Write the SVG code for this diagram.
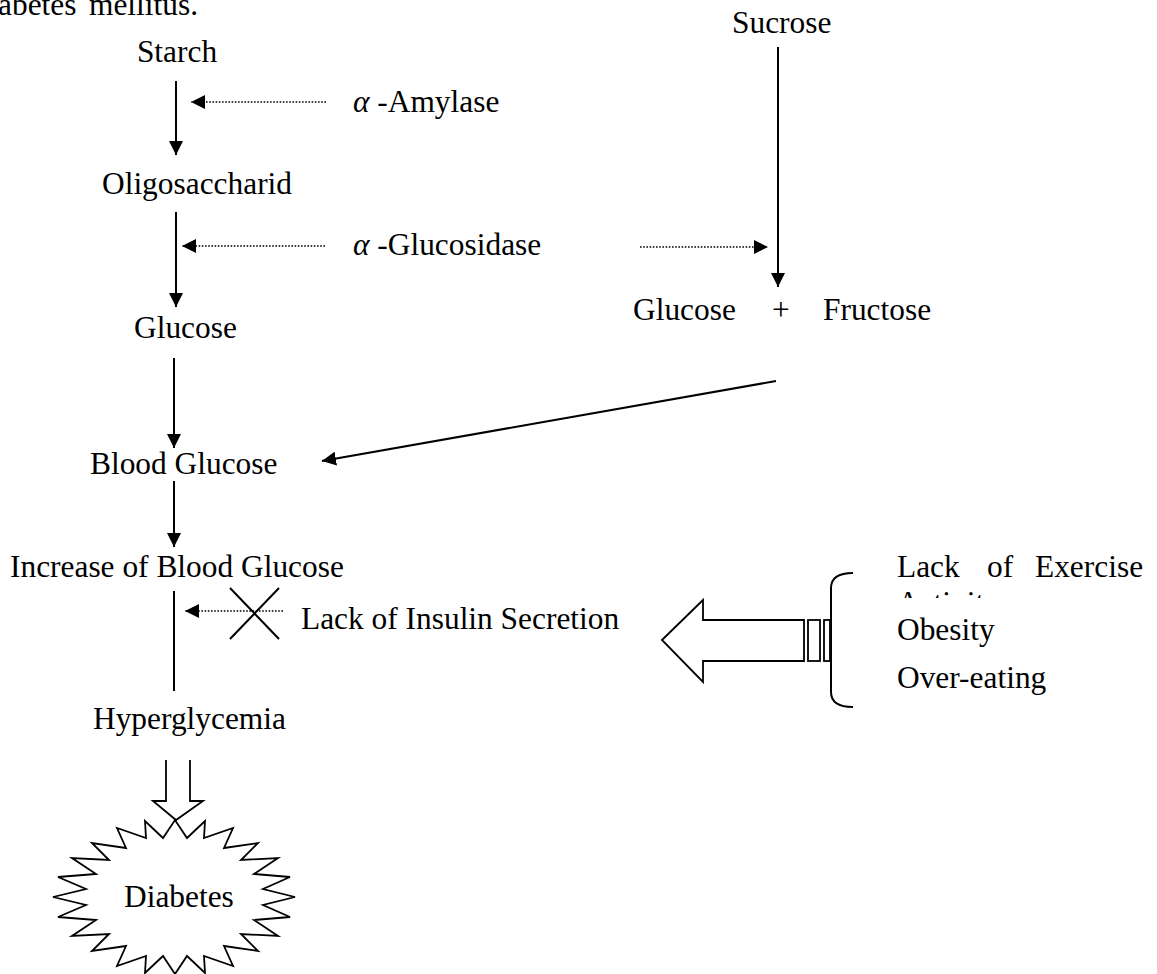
<svg xmlns="http://www.w3.org/2000/svg" width="1157" height="974" viewBox="0 0 1157 974">
<style>
text{font-family:"Liberation Serif","Times New Roman",serif;font-size:31.4px;fill:#000}
.s{stroke:#000;stroke-width:2;fill:none}
.d{stroke:#000;stroke-width:1.6;stroke-dasharray:1.6 1.6;fill:none}
.o{stroke:#000;stroke-width:1.8;fill:#fff}
.i{font-style:italic}
</style>
<defs>
<marker id="ah" viewBox="0 0 14 14" refX="14" refY="7" markerWidth="14" markerHeight="14" markerUnits="userSpaceOnUse" orient="auto"><path d="M0,0 L14,7 L0,14 z" fill="#000"/></marker>
<clipPath id="actclip"><rect x="880" y="585" width="200" height="13"/></clipPath>
</defs>
<rect width="1157" height="974" fill="#fff"/>
<g id="title"><text x="-2" y="15">abetes</text><text x="89" y="15">mellitus.</text></g>
<g id="starch"><text x="177" y="62" text-anchor="middle">Starch</text></g>
<g id="amylase"><text x="353" y="112"><tspan class="i">α</tspan> -Amylase</text></g>
<g id="oligo"><text x="102" y="194">Oligosaccharid</text></g>
<g id="glucosidase"><text x="353" y="255"><tspan class="i">α</tspan> -Glucosidase</text></g>
<g id="sucrose"><text x="732" y="33">Sucrose</text></g>
<g id="glufru"><text x="633" y="320">Glucose</text><text x="772" y="320">+</text><text x="823" y="320">Fructose</text></g>
<g id="glucose"><text x="134" y="338">Glucose</text></g>
<g id="blood"><text x="90" y="474">Blood Glucose</text></g>
<g id="increase"><text x="10" y="577">Increase of Blood Glucose</text></g>
<g id="insulin"><text x="301" y="629">Lack of Insulin Secretion</text>
<path class="s" d="M230,588 L279,639 M279,588 L230,639"/></g>
<g id="hyper"><text x="93" y="729">Hyperglycemia</text></g>
<g id="causes">
<text y="577"><tspan x="897">Lack</tspan><tspan x="987">of</tspan><tspan x="1035">Exercise</tspan></text>
<text x="897" y="613" clip-path="url(#actclip)">Activity</text>
<text x="897" y="640">Obesity</text>
<text x="897" y="688">Over-eating</text>
<path class="s" d="M853,573 Q831,573 831,588 L831,692 Q831,707 853,707"/>
</g>
<g id="bigarrow">
<polygon class="o" points="662,640 703,600 703,620 804,620 804,661 703,661 703,682"/>
<rect class="o" x="808" y="620" width="12" height="41"/>
<rect class="o" x="824" y="620" width="6" height="41"/>
</g>
<g id="diabetes">
<polygon class="o" id="burst" points="295,897 263,889 290,877 254,874 278,858 241,860 258,843 224,848 233,828 204,838 205,821 187,838 175,820 163,838 145,821 146,838 117,828 126,848 92,843 109,860 72,858 96,874 58,877 86,889 53,897 86,905 58,917 96,920 72,936 109,934 92,951 126,946 117,966 146,956 145,973 163,956 175,974 187,956 205,973 204,956 233,966 224,946 258,951 241,934 278,936 254,920 290,917 263,905"/>
<text x="124" y="907">Diabetes</text>
</g>
<g id="hollowdown"><path class="o" d="M166,760 L166,801 L153,801 L176,820 L203,801 L190,801 L190,760"/></g>
<g id="connectors">
<line class="s" x1="176" y1="81" x2="176" y2="155" marker-end="url(#ah)"/>
<line class="d" x1="326" y1="102" x2="191" y2="102" marker-end="url(#ah)"/>
<line class="s" x1="176" y1="212" x2="176" y2="307" marker-end="url(#ah)"/>
<line class="d" x1="325" y1="246" x2="182" y2="246" marker-end="url(#ah)"/>
<line class="d" x1="640" y1="247" x2="768" y2="247" marker-end="url(#ah)"/>
<line class="s" x1="778" y1="47" x2="778" y2="287" marker-end="url(#ah)"/>
<line class="s" x1="174" y1="358" x2="174" y2="448" marker-end="url(#ah)"/>
<line class="s" x1="776" y1="381" x2="322" y2="461" marker-end="url(#ah)"/>
<line class="s" x1="174" y1="481" x2="174" y2="547" marker-end="url(#ah)"/>
<line class="s" x1="174" y1="591" x2="174" y2="691"/>
<line class="d" x1="283" y1="611" x2="185" y2="611" marker-end="url(#ah)"/>
</g>
</svg>
